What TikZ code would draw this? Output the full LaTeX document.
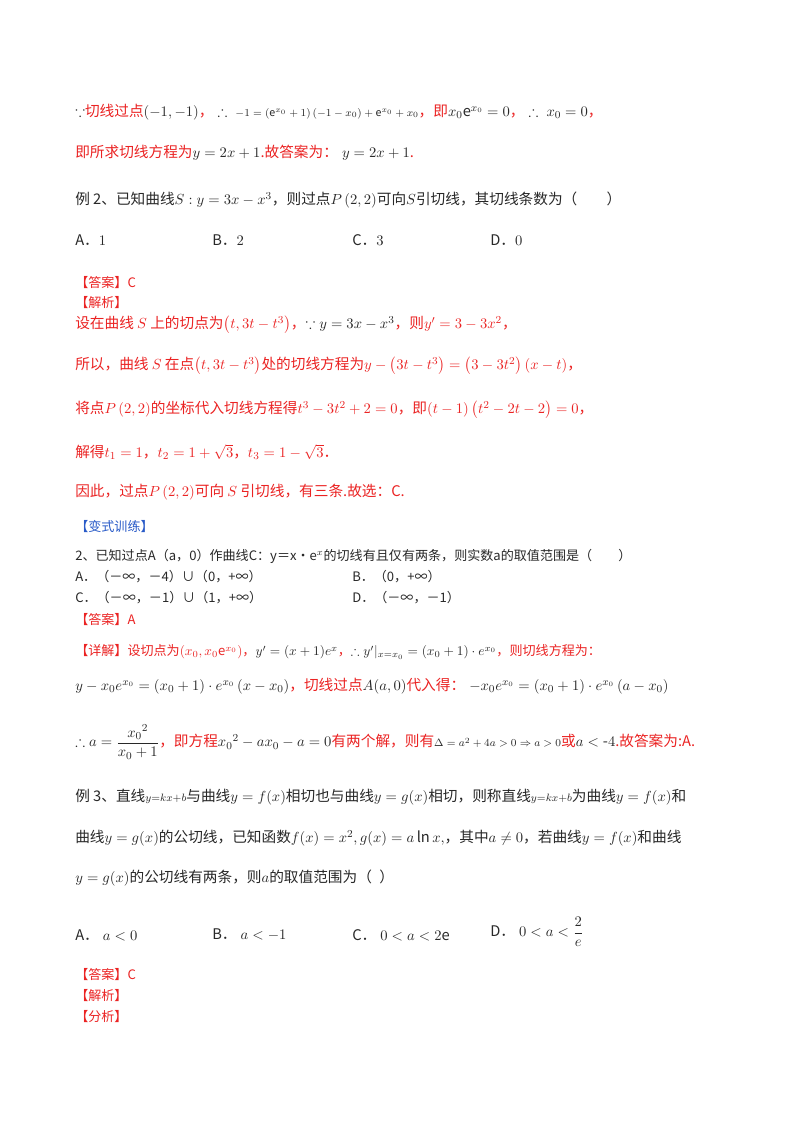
\documentclass[tikz,border=0pt]{standalone}
\usepackage{amsmath,amssymb}
\usepackage{fontspec}
\setmainfont{Noto Sans CJK SC}
\definecolor{rd}{RGB}{235,35,35}
\definecolor{bl}{RGB}{40,90,200}
\definecolor{tx}{RGB}{40,40,40}
\begin{document}
\begin{tikzpicture}[x=0.75pt,y=-0.75pt,
  ln/.style={anchor=west,inner sep=0pt,font=\fontsize{11}{13}\selectfont,text=tx},
  sm/.style={ln,font=\fontsize{9.8}{11}\selectfont}]
\useasboundingbox (0,0) rectangle (800,1132);
\fill[white] (0,0) rectangle (800,1132);
\node[ln] (l1) at (75,112) {$\because$\textcolor{rd}{切线过点}$\left(-1,-1\right)$\textcolor{rd}{，}$\;\therefore\;\text{\footnotesize$-1=\left(\mathrm{e}^{x_0}+1\right)\left(-1-x_0\right)+\mathrm{e}^{x_0}+x_0$}$\textcolor{rd}{，即}$x_0\mathrm{e}^{x_0}=0$\textcolor{rd}{，}$\;\therefore\;x_0=0$\textcolor{rd}{，}};
\node[ln] (l2) at (75,153) {\textcolor{rd}{即所求切线方程为}$y=2x+1$\textcolor{rd}{.故答案为：}$\;y=2x+1$\textcolor{rd}{.}};
\node[ln] (l3) at (75,200) {例 2、已知曲线$S:y=3x-x^3$，则过点$P\left(2,2\right)$可向$S$引切线，其切线条数为（\qquad）};
\node[ln] (a1) at (75,240) {A．$1$};
\node[ln] (b1) at (212,240) {B．$2$};
\node[ln] (c1) at (352,240) {C．$3$};
\node[ln] (d1) at (490,240) {D．$0$};
\node[sm,text=rd] (an1) at (75,283) {【答案】C};
\node[sm,text=rd] (ex1) at (75,303) {【解析】};
\node[ln,text=rd] (s1) at (75,325) {设在曲线 $S$ 上的切点为$\left(t,3t-t^3\right)$，\textcolor{tx}{$\because y=3x-x^3$}，则$y'=3-3x^2$，};
\node[ln,text=rd] (s2) at (75,366) {所以，曲线 $S$ 在点$\left(t,3t-t^3\right)$处的切线方程为$y-\left(3t-t^3\right)=\left(3-3t^2\right)\left(x-t\right)$，};
\node[ln,text=rd] (s3) at (75,410) {将点$P\left(2,2\right)$的坐标代入切线方程得$t^3-3t^2+2=0$，即$\left(t-1\right)\left(t^2-2t-2\right)=0$，};
\node[ln,text=rd] (s4) at (75,452) {解得$t_1=1$，$t_2=1+\sqrt3$，$t_3=1-\sqrt3$．};
\node[ln,text=rd] (s5) at (75,492) {因此，过点$P\left(2,2\right)$可向 $S$ 引切线，有三条.故选：C.};
\node[sm,text=bl] (bs) at (75,527) {【变式训练】};
\node[sm] (q2) at (75,556) {2、已知过点A（a，0）作曲线C：y＝x•e$^x$的切线有且仅有两条，则实数a的取值范围是（\qquad）};
\node[sm] (a2) at (75,577) {A．（－∞，－4）∪（0，+∞）};
\node[sm] (b2) at (352,577) {B．（0，+∞）};
\node[sm] (c2) at (75,598) {C．（－∞，－1）∪（1，+∞）};
\node[sm] (d2) at (352,598) {D．（－∞，－1）};
\node[sm,text=rd] (an2) at (75,620) {【答案】A};
\node[sm,text=rd] (xj) at (75,652) {【详解】设切点为$\left(x_0,x_0\mathrm{e}^{x_0}\right)$，\textcolor{tx}{$y'=(x+1)e^x$}，\textcolor{tx}{$\therefore y'|_{x=x_0}=(x_0+1)\cdot e^{x_0}$}，则切线方程为：};
\node[ln,text=rd] (e1) at (75,686) {\textcolor{tx}{$y-x_0e^{x_0}=\left(x_0+1\right)\cdot e^{x_0}\left(x-x_0\right)$}，切线过点\textcolor{tx}{$A(a,0)$}代入得：\textcolor{tx}{$\;-x_0e^{x_0}=\left(x_0+1\right)\cdot e^{x_0}\left(a-x_0\right)$}};
\node[ln,text=rd] (e2) at (75,742) {\textcolor{tx}{$\therefore a=\dfrac{{x_0}^2}{x_0+1}$}，即方程\textcolor{tx}{${x_0}^2-ax_0-a=0$}有两个解，则有\textcolor{tx}{\footnotesize$\Delta=a^2+4a>0\Rightarrow a>0$}或\textcolor{tx}{$a<\text{-}4$}.故答案为:A.};
\node[ln] (q3) at (75,797) {例 3、直线${\scriptstyle y=kx+b}$与曲线$y=f(x)$相切也与曲线$y=g(x)$相切，则称直线${\scriptstyle y=kx+b}$为曲线$y=f(x)$和};
\node[ln] (q3b) at (75,838) {曲线$y=g(x)$的公切线，已知函数$f(x)=x^2,g(x)=a\ln x,$，其中$a\neq0$，若曲线$y=f(x)$和曲线};
\node[ln] (q3c) at (75,878) {$y=g(x)$的公切线有两条，则$a$的取值范围为（\enspace）};
\node[ln] (a3) at (75,935) {A．$\;a<0$};
\node[ln] (b3) at (212,935) {B．$\;a<-1$};
\node[ln] (c3) at (352,935) {C．$\;0<a<2\mathrm{e}$};
\node[ln] (d3) at (490,932) {D．$\;0<a<\dfrac{2}{e}$};
\node[sm,text=rd] (an3) at (75,975) {【答案】C};
\node[sm,text=rd] (ex3) at (75,996) {【解析】};
\node[sm,text=rd] (fx3) at (75,1017) {【分析】};
\end{tikzpicture}
\end{document}
